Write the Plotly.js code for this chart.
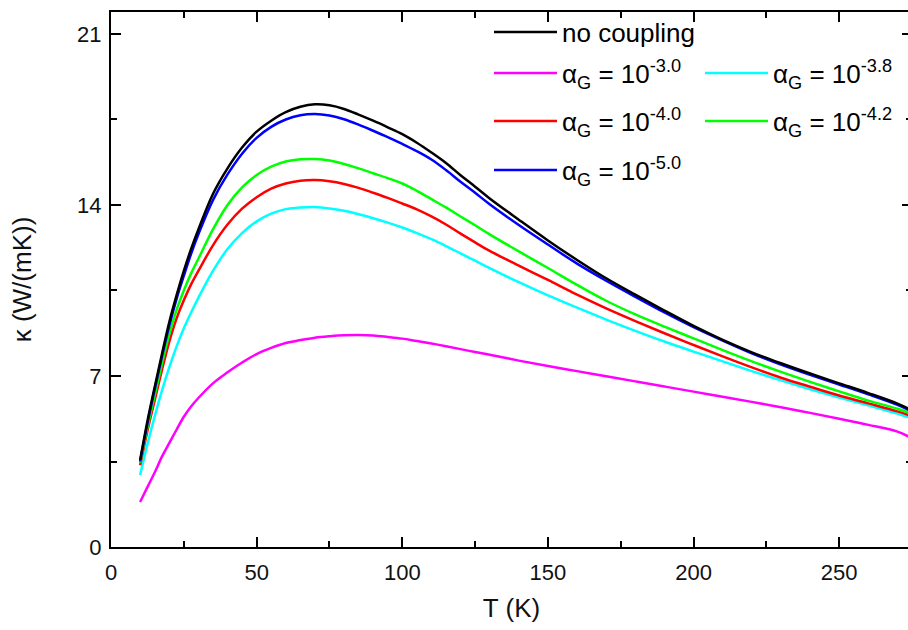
<!DOCTYPE html>
<html>
<head>
<meta charset="utf-8">
<script src="https://cdn.plot.ly/plotly-3.0.1.min.js"></script>
<style>
html,body{margin:0;padding:0;overflow:hidden;background:#fff;}
#chart{width:914px;height:630px;}
</style>
</head>
<body>
<div id="chart"></div>
<script>
// Temperature grid (K)
const T = [10,12.5,15,17.5,20,22.5,25,27.5,30,35,40,45,50,55,60,65,70,75,80,85,90,95,100,105,110,115,120,125,130,140,150,160,170,180,190,200,210,220,230,240,250,260,270,275];

// Thermal conductivity kappa (W/(mK)) for each case
const kNoCoupling = [3.56,5.15,6.55,7.9,9.2,10.3,11.3,12.2,13.0,14.45,15.5,16.35,17.0,17.45,17.8,18.02,18.12,18.08,17.93,17.7,17.45,17.18,16.9,16.55,16.15,15.72,15.22,14.75,14.27,13.4,12.55,11.75,11.0,10.33,9.68,9.05,8.48,7.97,7.52,7.1,6.7,6.3,5.87,5.6];
const kA30 = [1.84,2.45,3.05,3.7,4.25,4.8,5.33,5.75,6.1,6.7,7.15,7.55,7.9,8.15,8.35,8.47,8.57,8.63,8.67,8.68,8.66,8.6,8.53,8.43,8.33,8.22,8.1,7.98,7.87,7.63,7.41,7.2,6.99,6.78,6.57,6.36,6.15,5.94,5.72,5.49,5.25,5.0,4.72,4.45];
const kA38 = [2.95,4.2,5.35,6.4,7.35,8.2,8.95,9.6,10.2,11.3,12.2,12.85,13.33,13.65,13.83,13.9,13.92,13.86,13.76,13.62,13.46,13.28,13.08,12.85,12.6,12.32,12.02,11.72,11.42,10.84,10.3,9.8,9.31,8.85,8.41,8.0,7.6,7.2,6.82,6.46,6.12,5.8,5.46,5.25];
const kA40 = [3.35,4.75,6.0,7.25,8.4,9.35,10.1,10.75,11.3,12.35,13.2,13.85,14.32,14.67,14.88,14.99,15.02,14.97,14.86,14.7,14.5,14.29,14.06,13.82,13.53,13.2,12.83,12.47,12.12,11.52,10.93,10.33,9.77,9.25,8.75,8.27,7.8,7.35,6.93,6.56,6.2,5.88,5.55,5.35];
const kA42 = [3.45,4.9,6.2,7.5,8.7,9.7,10.5,11.2,11.8,13.0,14.0,14.72,15.23,15.57,15.78,15.87,15.88,15.82,15.68,15.5,15.3,15.1,14.88,14.58,14.24,13.9,13.53,13.17,12.8,12.1,11.42,10.73,10.08,9.52,9.02,8.54,8.06,7.6,7.17,6.76,6.37,5.99,5.66,5.45];
const kA50 = [3.5,5.05,6.45,7.8,9.05,10.15,11.1,12.0,12.8,14.2,15.25,16.1,16.75,17.2,17.5,17.67,17.72,17.66,17.51,17.29,17.04,16.78,16.5,16.2,15.86,15.43,14.95,14.5,14.03,13.18,12.38,11.6,10.9,10.24,9.6,9.0,8.45,7.93,7.47,7.05,6.65,6.25,5.82,5.55];

// Legend labels
const labels = [
  "no coupling",
  "α<sub>G</sub> = 10<sup>-3.0</sup>",
  "α<sub>G</sub> = 10<sup>-3.8</sup>",
  "α<sub>G</sub> = 10<sup>-4.0</sup>",
  "α<sub>G</sub> = 10<sup>-4.2</sup>",
  "α<sub>G</sub> = 10<sup>-5.0</sup>"
];
const colors = ["#000000","#ff00ff","#00ffff","#ff0000","#00ff00","#0000ff"];
const series = [kNoCoupling,kA30,kA38,kA40,kA42,kA50];
const legendIds = ["legend","legend2","legend3","legend4","legend5","legend6"];

// draw order: magenta, cyan, red, green, blue, black on top
const drawOrder = [1,2,3,4,5,0];
const traces = drawOrder.map(i => ({
  x: T, y: series[i], type: "scatter", mode: "lines",
  name: labels[i], legend: legendIds[i],
  line: {color: colors[i], width: 2.5, shape: "spline", smoothing: 1},
  hoverinfo: "skip"
}));

const fontFam = "Arial, 'Liberation Sans', sans-serif";
const W = 914, H = 630;
function leg(px, py) {
  return {
    xref: "container", yref: "container",
    x: px / W, y: 1 - py / H, xanchor: "left", yanchor: "middle",
    bgcolor: "rgba(0,0,0,0)", borderwidth: 0,
    font: {family: fontFam, size: 26, color: "#000"},
    itemwidth: 63, orientation: "v"
  };
}

const layout = {
  width: W, height: H,
  margin: {l: 111, r: 2, t: 12, b: 83, autoexpand: false},
  paper_bgcolor: "#fff", plot_bgcolor: "#fff",
  font: {family: fontFam, color: "#000"},
  showlegend: true,
  legend:  leg(489, 32),
  legend2: leg(489, 73),
  legend3: leg(700, 73),
  legend4: leg(489, 121),
  legend5: leg(700, 121),
  legend6: leg(489, 170),
  xaxis: {
    range: [0, 275], dtick: 50, tick0: 0, automargin: true,
    showline: true, linecolor: "#000", linewidth: 2, mirror: "ticks",
    ticks: "inside", ticklen: 10, tickwidth: 2, tickcolor: "#000",
    showgrid: false, zeroline: false,
    tickfont: {family: fontFam, size: 22, color: "#111"},
    ticklabelstandoff: 5,
    minor: {dtick: 25, ticks: "inside", ticklen: 6, tickwidth: 2, tickcolor: "#000", showgrid: false},
    title: {text: "T (K)", font: {family: fontFam, size: 26, color: "#111"}, standoff: 14}
  },
  yaxis: {
    range: [0, 21.9], dtick: 7, tick0: 0, automargin: true,
    showline: true, linecolor: "#000", linewidth: 2, mirror: "ticks",
    ticks: "inside", ticklen: 10, tickwidth: 2, tickcolor: "#000",
    showgrid: false, zeroline: false,
    tickfont: {family: fontFam, size: 22, color: "#111"},
    ticklabelstandoff: 3,
    minor: {dtick: 3.5, ticks: "inside", ticklen: 6, tickwidth: 2, tickcolor: "#000", showgrid: false},
    title: {text: "κ (W/(mK))", font: {family: fontFam, size: 26, color: "#111"}, standoff: 38}
  }
};

Plotly.newPlot("chart", traces, layout, {staticPlot: true, displayModeBar: false});
</script>
</body>
</html>
